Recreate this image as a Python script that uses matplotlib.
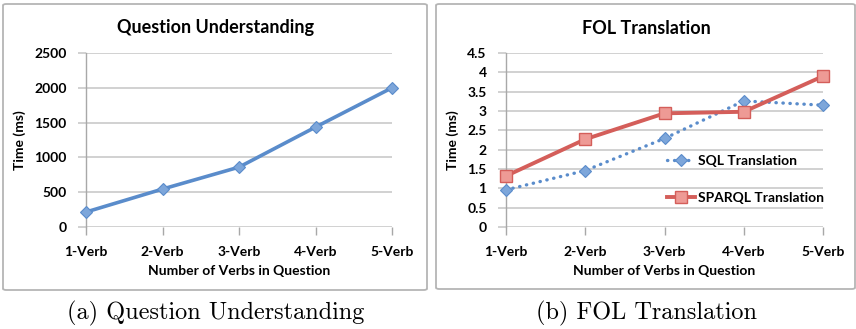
import matplotlib
matplotlib.use("Agg")
import matplotlib.pyplot as plt
from matplotlib.patches import FancyBboxPatch

# Data
categories = ["1-Verb", "2-Verb", "3-Verb", "4-Verb", "5-Verb"]
understanding_ms = [215, 545, 860, 1435, 2000]
sql_ms = [0.96, 1.46, 2.29, 3.26, 3.15]
sparql_ms = [1.32, 2.27, 2.94, 2.98, 3.90]

left_yticks = [0, 500, 1000, 1500, 2000, 2500]
right_yticks = [0, 0.5, 1, 1.5, 2, 2.5, 3, 3.5, 4, 4.5]
right_yticklabels = ["0", "0.5", "1", "1.5", "2", "2.5", "3", "3.5", "4", "4.5"]

W, H = 856, 329
FONT = "Lato"
BLUE = "#5A8CCB"
BLUE_MK = "#7DA6DA"
RED = "#D45E5A"
RED_MK = "#EE9A95"
GRID = "#C9C9C9"
AXIS = "#A8A8A8"

fig = plt.figure(figsize=(W / 100, H / 100), dpi=100)
fig.patch.set_facecolor("white")


def px_rect(x0, x1, y_top, y_bot):
    return [x0 / W, 1 - y_bot / H, (x1 - x0) / W, (y_bot - y_top) / H]


def panel_frame(x0, x1, y_top, y_bot):
    frame = FancyBboxPatch((x0 / W, 1 - y_bot / H), (x1 - x0) / W, (y_bot - y_top) / H,
                           boxstyle="round,pad=0,rounding_size=0.004",
                           transform=fig.transFigure, facecolor="none",
                           edgecolor="#B5B5B5", linewidth=1.3, zorder=-1)
    fig.patches.append(frame)


def bold(labels, size=10):
    for lab in labels:
        lab.set_fontfamily(FONT)
        lab.set_fontweight("bold")
        lab.set_fontsize(size)


def style_axes(ax, yticks, yticklabels, ylim):
    x = list(range(len(categories)))
    ax.set_facecolor("none")
    ax.set_xlim(0, len(categories) - 1)
    ax.set_ylim(*ylim)
    ax.set_xticks(x)
    ax.set_xticklabels(categories)
    ax.set_yticks(yticks)
    ax.set_yticklabels(yticklabels)
    bold(ax.get_xticklabels())
    bold(ax.get_yticklabels())
    for s in ["top", "right", "bottom"]:
        ax.spines[s].set_visible(False)
    ax.spines["left"].set_color(AXIS)
    ax.spines["left"].set_linewidth(1.0)
    ax.grid(axis="y", color=GRID, linewidth=1.2)
    ax.set_axisbelow(True)
    ax.tick_params(axis="x", length=6, color=AXIS, width=1.0, pad=8)
    ax.tick_params(axis="y", length=6, color=GRID, width=1.2, pad=8)
    ax.set_xlabel("Number of Verbs in Question", fontfamily=FONT, fontweight="bold",
                  fontsize=10, labelpad=5)
    ax.set_ylabel("Time (ms)", fontfamily=FONT, fontweight="bold", fontsize=10, labelpad=6)


# Panel frames
panel_frame(3, 427, 4, 290)
panel_frame(436, 855, 4, 289)

# (a) Question Understanding
ax1 = fig.add_axes(px_rect(86, 392, 53, 227))
ax1.plot(range(len(categories)), understanding_ms, color=BLUE, linewidth=2.6,
         marker="D", markersize=6, markerfacecolor=BLUE_MK, markeredgecolor=BLUE,
         markeredgewidth=0.8, clip_on=False, zorder=3)
style_axes(ax1, left_yticks, [str(v) for v in left_yticks], (0, 2500))
fig.text(216 / W, 1 - 28 / H, "Question Understanding", ha="center", va="center",
         fontfamily=FONT, fontweight="bold", fontsize=13)

# (b) FOL Translation
ax2 = fig.add_axes(px_rect(506, 823, 53, 227))
ax2.plot(range(len(categories)), sql_ms, color=BLUE, linewidth=2.4,
         linestyle=(0, (0.1, 2.0)), dash_capstyle="round",
         marker="D", markersize=6, markerfacecolor=BLUE_MK, markeredgecolor=BLUE,
         markeredgewidth=0.8, clip_on=False, zorder=3, label="SQL Translation")
ax2.plot(range(len(categories)), sparql_ms, color=RED, linewidth=2.8,
         marker="s", markersize=8, markerfacecolor=RED_MK, markeredgecolor=RED,
         markeredgewidth=1.0, clip_on=False, zorder=4, label="SPARQL Translation")
style_axes(ax2, right_yticks, right_yticklabels, (0, 4.5))
ax2.legend(loc="upper left", bbox_to_anchor=(667 / W, 1 - 155 / H),
           bbox_transform=fig.transFigure, frameon=False,
           prop={"family": FONT, "weight": "bold", "size": 10},
           handlelength=2.0, handletextpad=0.2, labelspacing=1.8,
           borderpad=0, borderaxespad=0)
fig.text(646 / W, 1 - 28 / H, "FOL Translation", ha="center", va="center",
         fontfamily=FONT, fontweight="bold", fontsize=13)

# Sub-figure captions
fig.text(216 / W, 1 - 313 / H, "(a) Question Understanding", ha="center", va="center",
         fontfamily="cmr10", fontsize=17.5)
fig.text(647 / W, 1 - 313 / H, "(b) FOL Translation", ha="center", va="center",
         fontfamily="cmr10", fontsize=17.5)

fig.savefig("out.png", dpi=100, facecolor="white")
